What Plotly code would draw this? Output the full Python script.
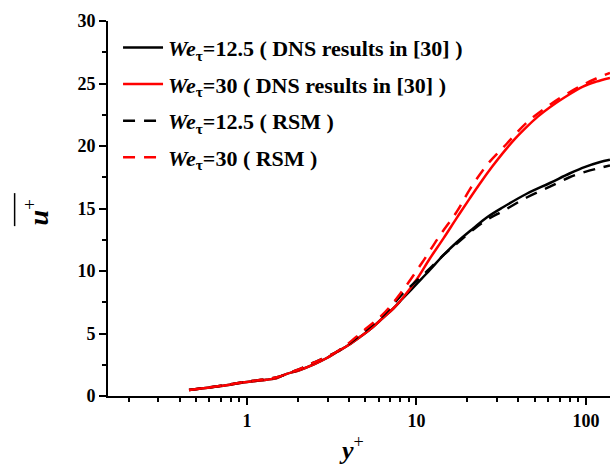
import plotly.graph_objects as go

# y+ positions and u+ values
yp_dns30 = [0.455, 0.7, 1.0, 1.3, 1.5, 1.7, 2.05, 2.5, 2.96, 3.39, 4.0, 4.64, 5.4, 6.33, 7.3, 8.3, 10.0, 12.0, 14.5, 17.3, 20.5, 23.7, 28.0, 32.4, 38.0, 44.9, 52.0, 61.3, 75.0, 96.0, 115.0, 138.6]
u_dns30 = [0.48, 0.8, 1.12, 1.3, 1.44, 1.75, 2.08, 2.55, 3.04, 3.52, 4.1, 4.72, 5.4, 6.24, 7.0, 7.84, 9.3, 11.0, 12.65, 14.25, 15.75, 17.0, 18.35, 19.45, 20.55, 21.55, 22.35, 23.1, 23.9, 24.75, 25.15, 25.45]

yp_rsm30 = [0.455, 0.7, 1.0, 1.3, 1.5, 2.0, 2.45, 3.44, 4.77, 6.53, 8.33, 10.76, 13.8, 17.3, 20.7, 26.1, 34.2, 45.0, 61.3, 80.0, 96.0, 115.0, 138.6]
u_rsm30 = [0.48, 0.82, 1.15, 1.35, 1.5, 2.1, 2.64, 3.6, 5.12, 6.72, 8.48, 10.64, 12.88, 14.75, 16.55, 18.5, 20.2, 21.9, 23.3, 24.3, 24.9, 25.4, 25.85]

yp_dns125 = [0.455, 0.7, 1.0, 1.3, 1.5, 1.7, 2.05, 2.5, 2.96, 3.39, 4.0, 4.64, 5.4, 6.33, 7.3, 8.3, 10.0, 12.0, 14.5, 17.3, 21.6, 26.1, 32.4, 45.0, 61.3, 80.0, 100.0, 120.0, 138.6]
u_dns125 = [0.48, 0.8, 1.12, 1.3, 1.44, 1.75, 2.08, 2.55, 3.04, 3.52, 4.1, 4.72, 5.4, 6.24, 7.0, 7.8, 8.95, 10.08, 11.3, 12.3, 13.4, 14.3, 15.1, 16.2, 17.04, 17.8, 18.35, 18.7, 18.9]

yp_rsm125 = [0.455, 0.7, 1.0, 1.3, 1.5, 2.0, 2.45, 3.44, 4.77, 6.53, 8.3, 10.0, 12.0, 14.5, 17.3, 21.6, 26.1, 32.4, 45.0, 61.3, 80.0, 100.0, 121.0, 138.6]
u_rsm125 = [0.48, 0.82, 1.15, 1.35, 1.5, 2.1, 2.64, 3.6, 5.0, 6.6, 8.2, 9.2, 10.2, 11.3, 12.2, 13.3, 14.1, 14.8, 15.9, 16.75, 17.5, 17.95, 18.25, 18.45]

x_tickvals = [1, 10, 100]
x_ticktext = ["1", "10", "100"]
x_minor = [0.2, 0.3, 0.4, 0.5, 0.6, 0.7, 0.8, 0.9, 2, 3, 4, 5, 6, 7, 8, 9, 20, 30, 40, 50, 60, 70, 80, 90]
y_tickvals = [0, 5, 10, 15, 20, 25, 30]

names = [
    "<b><i>We</i><sub>τ</sub>=12.5 ( DNS results in [30] )</b>",
    "<b><i>We</i><sub>τ</sub>=30 ( DNS results in [30] )</b>",
    "<b><i>We</i><sub>τ</sub>=12.5 ( RSM )</b>",
    "<b><i>We</i><sub>τ</sub>=30 ( RSM )</b>",
]

FONT = "Liberation Serif, Times New Roman, serif"

fig = go.Figure()
fig.add_trace(go.Scatter(x=yp_dns125, y=u_dns125, mode="lines", name=names[0], legendgroup="a",
                         line=dict(color="black", width=2.5), line_shape="spline"))
fig.add_trace(go.Scatter(x=yp_dns30, y=u_dns30, mode="lines", name=names[1], legendgroup="b",
                         line=dict(color="#ff0000", width=2.5), line_shape="spline"))
fig.add_trace(go.Scatter(x=yp_rsm125, y=u_rsm125, mode="lines", name=names[2], legendgroup="c",
                         line=dict(color="black", width=2.5, dash="12px,9px"), line_shape="spline"))
fig.add_trace(go.Scatter(x=yp_rsm30, y=u_rsm30, mode="lines", name=names[3], legendgroup="d",
                         line=dict(color="#ff0000", width=2.5, dash="12px,9px"), line_shape="spline"))

fig.update_layout(
    width=610, height=468,
    margin=dict(l=108, r=0, t=21, b=72),
    paper_bgcolor="white", plot_bgcolor="white",
    font=dict(family=FONT, color="black"),
    showlegend=True,
    legend=dict(x=0.02, y=0.985, xanchor="left", yanchor="top",
                font=dict(family=FONT, size=22, color="black"),
                bgcolor="rgba(0,0,0,0)", tracegroupgap=5, itemwidth=40),
    xaxis=dict(type="log", range=[-0.82, 2.142],
               tickvals=x_tickvals, ticktext=x_ticktext,
               ticks="outside", ticklen=7, tickwidth=2, tickcolor="black",
               showline=True, linewidth=2, linecolor="black",
               showgrid=False, zeroline=False, automargin=False,
               tickfont=dict(family=FONT, size=18, color="black", weight="bold"),
               minor=dict(tickvals=x_minor, ticks="outside", ticklen=4, tickwidth=1.5, tickcolor="black", showgrid=False)),
    yaxis=dict(range=[0, 30], tickvals=y_tickvals,
               ticks="outside", ticklen=7, tickwidth=2, tickcolor="black",
               showline=True, linewidth=2, linecolor="black",
               showgrid=False, zeroline=False, automargin=False,
               tickfont=dict(family=FONT, size=18, color="black", weight="bold"),
               minor=dict(dtick=2.5, ticks="outside", ticklen=4, tickwidth=1.5, tickcolor="black", showgrid=False)),
    annotations=[
        dict(text="<b><i>u</i></b><sup>+</sup>",
             xref="paper", yref="paper", x=-0.143, y=0.49, xanchor="center", yanchor="middle",
             textangle=-90, showarrow=False, font=dict(family=FONT, size=28, color="black")),
        dict(text="<b><i>y</i></b><sup>+</sup>",
             xref="paper", yref="paper", x=0.485, y=-0.14, xanchor="center", yanchor="middle",
             showarrow=False, font=dict(family=FONT, size=26, color="black")),
    ],
    shapes=[
        # overbar of the rotated y-axis title
        dict(type="line", xref="paper", yref="paper", x0=-0.186, x1=-0.186, y0=0.453, y1=0.541,
             line=dict(color="black", width=1.5)),
    ],
)

fig.write_html("out.html", post_script="document.body.style.margin='0';",
               config={"displayModeBar": False})
